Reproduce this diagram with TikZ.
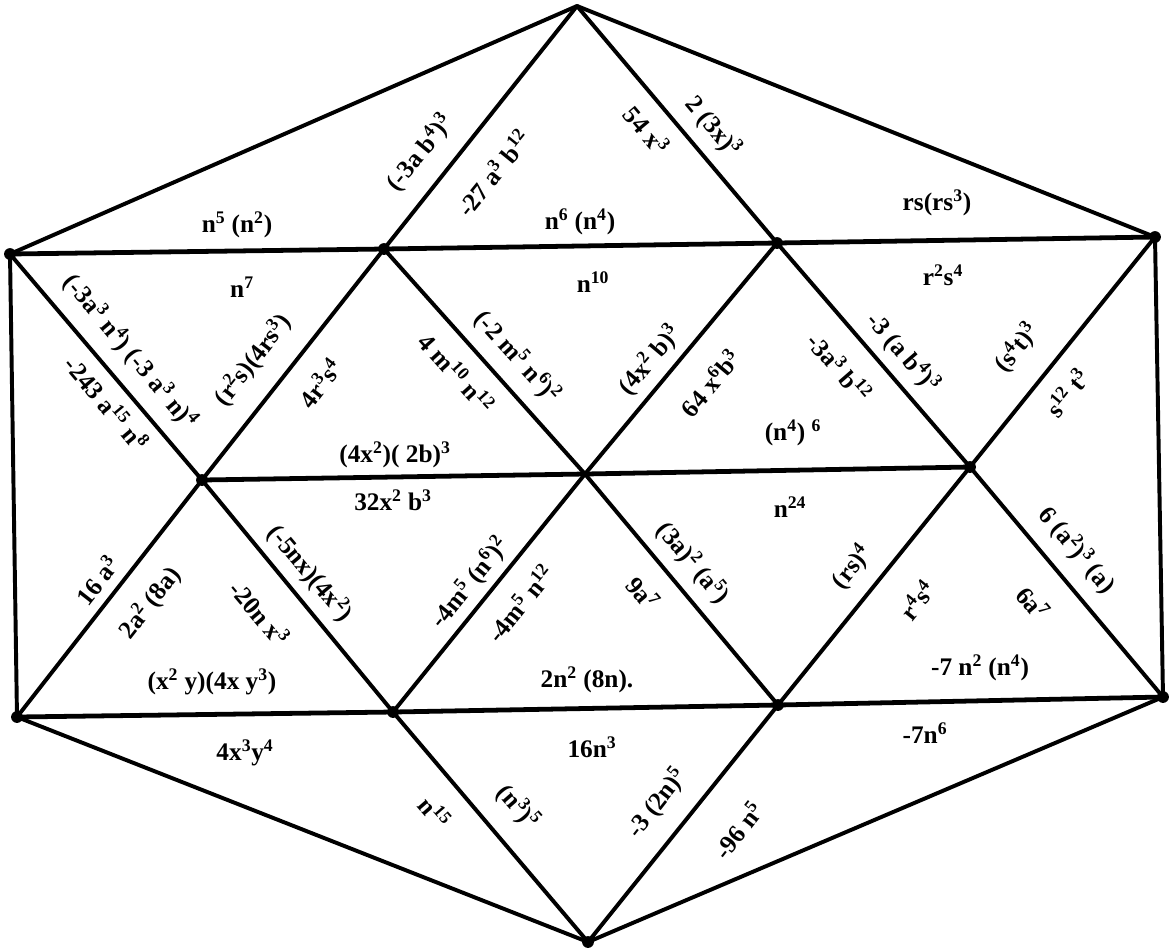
\documentclass[tikz,border=0pt]{standalone}
\usepackage{fontspec}
\setmainfont{Liberation Serif}
\newcommand{\su}[1]{\textsuperscript{#1}}
\begin{document}
\begin{tikzpicture}[x=0.025cm,y=-0.025cm,
  edge/.style={line width=2.8pt, line cap=round, line join=round},
  hedge/.style={line width=3.4pt, line cap=round, line join=round},
  lbl/.style={font=\fontsize{18}{21}\selectfont\bfseries, inner sep=0pt},
  vdot/.style={fill=black}]
\useasboundingbox (0,0) rectangle (1176,950);
% vertices
\coordinate (T) at (577,6);
\coordinate (L1) at (10,254);
\coordinate (A) at (384,249);
\coordinate (B) at (777,243);
\coordinate (R1) at (1155,237);
\coordinate (C) at (202,480);
\coordinate (D) at (585,474);
\coordinate (E) at (970,467);
\coordinate (L2) at (17,717);
\coordinate (F) at (393,712);
\coordinate (G) at (778,705);
\coordinate (R2) at (1163,697);
\coordinate (Bo) at (588,942);
% edges
\draw[edge] (T) -- (L1);
\draw[edge] (T) -- (A);
\draw[edge] (T) -- (B);
\draw[edge] (T) -- (R1);
\draw[hedge] (L1) -- (A) -- (B) -- (R1);
\draw[edge] (L1) -- (L2);
\draw[edge] (R1) -- (R2);
\draw[edge] (L1) -- (C) -- (A) -- (D) -- (B) -- (E) -- (R1);
\draw[hedge] (C) -- (D) -- (E);
\draw[edge] (L2) -- (C) -- (F) -- (D) -- (G) -- (E) -- (R2);
\draw[hedge] (L2) -- (F) -- (G) -- (R2);
\draw[edge] (L2) -- (Bo);
\draw[edge] (F) -- (Bo);
\draw[edge] (G) -- (Bo);
\draw[edge] (R2) -- (Bo);
% dots
\foreach \v in {L1,A,B,R1,C,E,L2,F,G,R2,Bo}
  \fill[vdot] (\v) circle[radius=4.2pt];
% labels
\node[lbl] (t0) at (237,225) {n\su{5} (n\su{2})};
\node[lbl] (t1) at (242,287) {n\su{7}};
\node[lbl,rotate=51] (t2) at (420,153) {(-3a b\su{4})\su{3}};
\node[lbl,rotate=51] (t3) at (493,173) {-27 a\su{3} b\su{12}};
\node[lbl,rotate=-50] (t4) at (647,130) {54 x\su{3}};
\node[lbl,rotate=-50] (t5) at (713,127) {2 (3x)\su{3}};
\node[lbl] (t6) at (580,222) {n\su{6} (n\su{4})};
\node[lbl] (t7) at (937,203) {rs(rs\su{3})};
\node[lbl] (t8) at (943,275) {r\su{2}s\su{4}};
\node[lbl,rotate=-50] (t9) at (130,352) {(-3a\su{3} n\su{4}) (-3 a\su{3} n)\su{4}};
\node[lbl,rotate=-50] (t10) at (107,403) {-243 a\su{15} n\su{8}};
\node[lbl,rotate=52] (t11) at (253,360) {(r\su{2}s)(4rs\su{3})};
\node[lbl,rotate=52] (t12) at (320,383) {4r\su{3}s\su{4}};
\node[lbl] (t13) at (395,455) {(4x\su{2})( 2b)\su{3}};
\node[lbl] (t14) at (393,500) {32x\su{2} b\su{3}};
\node[lbl] (t15) at (593,282) {n\su{10}};
\node[lbl,rotate=-48] (t16) at (517,357) {(-2 m\su{5} n\su{6})\su{2}};
\node[lbl,rotate=-48] (t17) at (457,373) {4 m\su{10} n\su{12}};
\node[lbl,rotate=50] (t18) at (650,360) {(4x\su{2} b)\su{3}};
\node[lbl,rotate=50] (t19) at (710,383) {64 x\su{6}b\su{3}};
\node[lbl,rotate=-49] (t20) at (903,353) {-3 (a b\su{4})\su{3}};
\node[lbl,rotate=-49] (t21) at (840,367) {-3a\su{3} b\su{12}};
\node[lbl,rotate=51] (t22) at (1017,348) {(s\su{4}t)\su{3}};
\node[lbl,rotate=51] (t23) at (1067,393) {s\su{12} t\su{3}};
\node[lbl] (t24) at (793,433) {(n\su{4}) \su{6}};
\node[lbl] (t25) at (790,507) {n\su{24}};
\node[lbl,rotate=52] (t26) at (97,580) {16 a\su{3}};
\node[lbl,rotate=52] (t27) at (150,603) {2a\su{2} (8a)};
\node[lbl,rotate=-50] (t28) at (260,613) {-20n x\su{3}};
\node[lbl,rotate=-50] (t29) at (310,573) {(-5nx)(4x\su{2})};
\node[lbl] (t30) at (212,682) {(x\su{2} y)(4x y\su{3})};
\node[lbl,rotate=51] (t31) at (470,583) {-4m\su{5} (n\su{6})\su{2}};
\node[lbl,rotate=51] (t32) at (520,603) {-4m\su{5} n\su{12}};
\node[lbl,rotate=-50] (t33) at (693,563) {(3a)\su{2} (a\su{5})};
\node[lbl,rotate=-50] (t34) at (643,593) {9a\su{7}};
\node[lbl] (t35) at (587,680) {2n\su{2} (8n).};
\node[lbl,rotate=51] (t36) at (852,567) {(rs)\su{4}};
\node[lbl,rotate=51] (t37) at (917,600) {r\su{4}s\su{4}};
\node[lbl,rotate=-50] (t38) at (1077,550) {6 (a\su{2})\su{3} (a)};
\node[lbl,rotate=-50] (t39) at (1033,603) {6a\su{7}};
\node[lbl] (t40) at (980,668) {-7 n\su{2} (n\su{4})};
\node[lbl] (t41) at (245,753) {4x\su{3}y\su{4}};
\node[lbl,rotate=-49] (t42) at (435,812) {n\su{15}};
\node[lbl,rotate=-49] (t43) at (518,807) {(n\su{3})\su{5}};
\node[lbl] (t44) at (592,747) {16n\su{3}};
\node[lbl,rotate=52] (t45) at (657,803) {-3 (2n)\su{5}};
\node[lbl,rotate=52] (t46) at (738,830) {-96 n\su{5}};
\node[lbl] (t47) at (925,733) {-7n\su{6}};
\end{tikzpicture}
\end{document}
